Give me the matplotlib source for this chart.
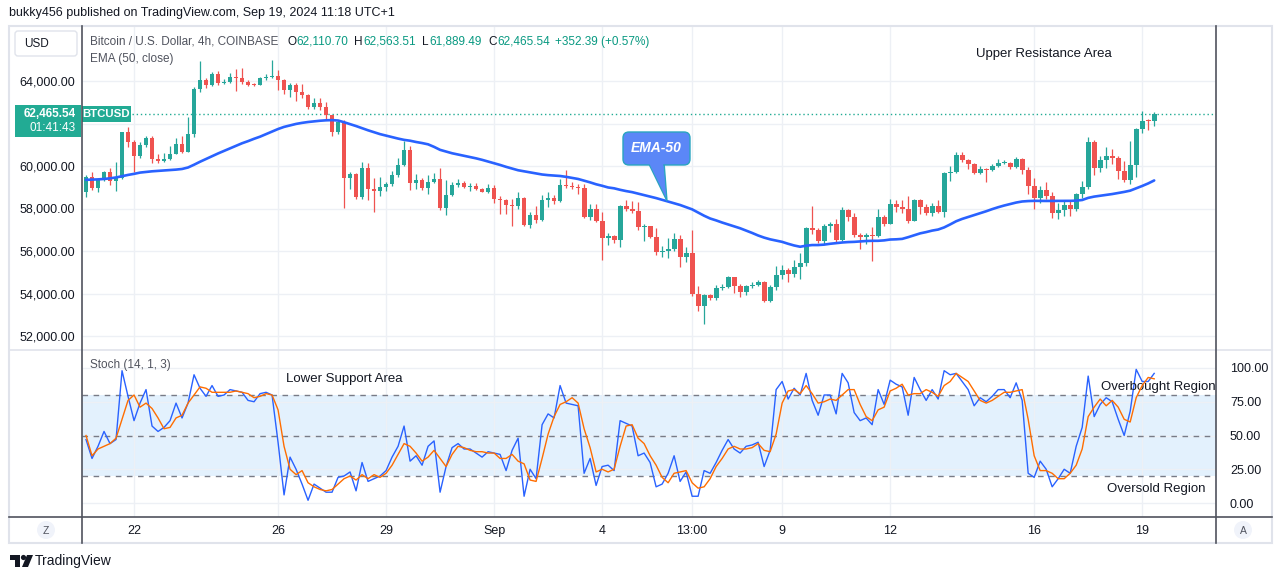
import matplotlib
matplotlib.use('Agg')
import matplotlib.pyplot as plt
import numpy as np
import pandas as pd
from matplotlib.patches import Rectangle, FancyBboxPatch, Polygon, Circle
from matplotlib.lines import Line2D

# ---------------- data ----------------
start_time = '2024-08-20 17:00'
opens = [58790, 59470, 58980, 59340, 59700, 59300, 59420, 61590, 61120, 60490,
         60990, 61300, 60330, 60240, 60330, 60580, 61030, 60670, 61500, 63620,
         64050, 63810, 64330, 63890, 63970, 64170, 64120, 63970, 63830, 63810,
         64125, 64200, 64230, 64050, 63580, 63810, 63480, 63340, 62790, 62980,
         62790, 62400, 61620, 62085, 59420, 59620, 58530, 59890, 58920, 58840,
         59030, 59150, 59576, 60050, 60750, 59215, 59340, 58980, 59250, 59390,
         58040, 58640, 59110, 59200, 59030, 59060, 58920, 58790, 58970, 58450,
         58400, 58160, 58100, 58510, 57220, 57690, 57460, 58400, 58510, 58330,
         59100, 59060, 59020, 58950, 57620, 57980, 57430, 56600, 56700, 56520,
         58120, 57990, 57900, 57110, 57160, 56640, 55940, 56000, 56100, 56550,
         55740, 55920, 53980, 53420, 53930, 53770, 54280, 54320, 54790, 54350,
         54085, 54350, 54380, 54530, 53650, 54320, 54870, 55110, 54920, 55270,
         55420, 57100, 56990, 56490, 57180, 57250, 56520, 57930, 57590, 56760,
         56670, 56740, 56700, 57620, 57270, 58210, 58090, 57980, 57430, 58400,
         58090, 57800, 58120, 57830, 59660, 59700, 60520, 60280, 60100, 59660,
         59860, 59820, 60000, 60130, 60150, 59940, 60330, 59810, 59060, 58510,
         58870, 58590, 57800, 57930, 58170, 57990, 58680, 59030, 61130, 59920,
         60280, 60470, 60380, 59780, 59340, 60050, 61740, 62150, 62110.70]
highs = [59580, 59700, 59450, 59750, 59890, 60200, 61610, 61850, 61220, 61110,
         61410, 61410, 60550, 60600, 60960, 61330, 61410, 62320, 63700, 64950,
         64150, 64420, 64450, 64100, 64400, 64550, 64600, 64050, 63900, 64200,
         64350, 64990, 64500, 64100, 63900, 63900, 63870, 63400, 63215, 63200,
         63000, 62400, 62150, 62150, 59700, 59650, 60200, 60150, 59420, 59500,
         59250, 59765, 60400, 61190, 60940, 59620, 59450, 59570, 59680, 59890,
         59340, 59250, 59400, 59300, 59200, 59200, 58970, 59150, 59100, 58600,
         58450, 58430, 58790, 58550, 57830, 58100, 58640, 58800, 58650, 59390,
         59810, 59250, 59150, 59150, 58230, 58200, 57830, 56850, 56750, 58150,
         58400, 58350, 58320, 57250, 57200, 57100, 56220, 56620, 56850, 56750,
         56200, 56990, 54350, 54000, 54000, 54400, 54450, 54830, 54800, 54450,
         54400, 54550, 54650, 54600, 54400, 55310, 55350, 55200, 55600, 55900,
         57150, 58120, 57100, 57250, 57350, 57500, 58050, 58000, 57800, 56850,
         56860, 57110, 57980, 57700, 58430, 58400, 58380, 58590, 58450, 58450,
         58200, 58260, 58400, 59700, 60000, 60650, 60650, 60350, 60150, 60000,
         59920, 60100, 60330, 60270, 60200, 60420, 60360, 59950, 59420, 59050,
         59240, 58800, 58260, 58400, 58350, 58750, 59300, 61350, 61220, 60460,
         60900, 60800, 60450, 60230, 61200, 61800, 62590, 62200, 62563.51]
lows = [58560, 58870, 58790, 59300, 59120, 58820, 59400, 60910, 59730, 60360,
        60900, 60130, 60130, 60180, 60300, 60560, 60600, 60650, 61370, 63500,
        63670, 63750, 63800, 63850, 63900, 63550, 63840, 63750, 63750, 63800,
        64050, 64150, 63600, 63400, 63260, 63060, 63200, 62700, 62700, 62650,
        62150, 61410, 61500, 58010, 58920, 58470, 58470, 58400, 57850, 58600,
        58840, 59050, 59500, 60000, 58870, 58900, 58850, 58700, 59200, 57950,
        57700, 58600, 59000, 58980, 58840, 58850, 58760, 58740, 58270, 57740,
        57740, 57180, 58000, 57180, 57080, 57320, 57400, 58080, 58200, 58300,
        58950, 58900, 58680, 57560, 57450, 57350, 55580, 56300, 56400, 56170,
        57900, 57800, 57000, 56460, 56600, 55800, 55700, 55690, 56000, 55260,
        55500, 53900, 53190, 52570, 53700, 53700, 54180, 54250, 54010, 53850,
        53950, 54250, 54350, 53600, 53600, 54150, 54700, 54560, 54800, 54700,
        55300, 56800, 56400, 56350, 56900, 56400, 56450, 57410, 56660, 56090,
        56330, 55530, 56650, 57200, 57250, 57850, 57800, 57300, 57400, 57740,
        57700, 57650, 57800, 57620, 59310, 59650, 60200, 59870, 59610, 59610,
        59270, 59760, 59960, 60080, 59870, 59900, 59610, 58680, 57980, 58270,
        58450, 57540, 57500, 57650, 57670, 57900, 58500, 58900, 59580, 59720,
        59900, 60080, 59370, 59250, 59150, 59480, 61570, 61700, 61889.49]
closes = [59470, 58980, 59340, 59700, 59300, 59420, 61590, 61120, 60490, 60990,
          61300, 60330, 60240, 60330, 60580, 61030, 60670, 61500, 63620, 64050,
          63810, 64330, 63890, 63970, 64170, 64120, 63970, 63830, 63810, 64125,
          64200, 64230, 64050, 63580, 63810, 63480, 63340, 62790, 62980, 62790,
          62400, 61620, 62085, 59420, 59620, 58530, 59890, 58920, 58840, 59030,
          59150, 59576, 60050, 60750, 59215, 59340, 58980, 59250, 59390, 58040,
          58640, 59110, 59200, 59030, 59060, 58920, 58790, 58970, 58450, 58400,
          58160, 58100, 58510, 57220, 57690, 57460, 58400, 58510, 58330, 59100,
          59060, 59020, 58950, 57620, 57980, 57430, 56600, 56700, 56520, 58120,
          57990, 57900, 57110, 57160, 56640, 55940, 56000, 56100, 56550, 55740,
          55920, 53980, 53420, 53930, 53770, 54280, 54320, 54790, 54350, 54085,
          54350, 54380, 54530, 53650, 54320, 54870, 55110, 54920, 55270, 55420,
          57100, 56990, 56490, 57180, 57250, 56520, 57930, 57590, 56760, 56670,
          56740, 56700, 57620, 57270, 58210, 58090, 57980, 57430, 58400, 58090,
          57800, 58120, 57830, 59660, 59700, 60520, 60280, 60100, 59660, 59860,
          59820, 60000, 60130, 60150, 59940, 60330, 59810, 59060, 58510, 58870,
          58590, 57800, 57930, 58170, 57990, 58680, 59030, 61130, 59920, 60280,
          60470, 60380, 59780, 59340, 60050, 61740, 62110, 62110.70, 62465.54]
ema50 = [59350, 59360, 59370, 59390, 59420, 59460, 59520, 59580, 59630, 59690,
         59720, 59750, 59770, 59790, 59810, 59830, 59860, 59930, 60060, 60200,
         60330, 60460, 60590, 60710, 60830, 60950, 61070, 61170, 61280, 61380,
         61500, 61620, 61740, 61840, 61910, 61980, 62030, 62070, 62100, 62130,
         62150, 62160, 62140, 62060, 61970, 61880, 61780, 61680, 61590, 61500,
         61430, 61360, 61290, 61230, 61190, 61130, 61080, 61020, 60900, 60760,
         60680, 60600, 60540, 60480, 60420, 60360, 60290, 60210, 60130, 60050,
         59960, 59880, 59800, 59750, 59700, 59650, 59600, 59570, 59550, 59530,
         59490, 59440, 59390, 59310, 59230, 59140, 59070, 58990, 58950, 58880,
         58820, 58770, 58700, 58630, 58560, 58490, 58410, 58330, 58250, 58165,
         58060, 57960, 57810, 57660, 57530, 57440, 57340, 57250, 57160, 57070,
         56960, 56850, 56730, 56630, 56550, 56490, 56430, 56340, 56260, 56200,
         56250, 56280, 56280, 56300, 56340, 56370, 56400, 56420, 56430, 56450,
         56470, 56480, 56480, 56500, 56540, 56550, 56570, 56650, 56740, 56830,
         56890, 56960, 57010, 57110, 57250, 57400, 57510, 57600, 57690, 57775,
         57870, 57970, 58060, 58140, 58210, 58280, 58330, 58350, 58360, 58355,
         58355, 58355, 58355, 58360, 58360, 58370, 58400, 58500, 58560, 58600,
         58640, 58680, 58730, 58780, 58840, 58950, 59060, 59180, 59320]
stoch_k = [47, 33, 42, 53, 44, 47, 98, 79, 61, 74, 84, 57, 53, 56, 61, 74, 63, 74, 95, 85,
           79, 87, 79, 80, 84, 83, 82, 76, 75, 81, 82, 80, 45, 6, 34, 25, 14, 2, 14, 11,
           8, 8, 19, 20, 23, 9, 30, 16, 18, 20, 24, 34, 42, 57, 31, 35, 28, 42, 46, 8,
           27, 41, 44, 40, 40, 37, 34, 38, 37, 36, 24, 39, 48, 5, 25, 18, 58, 66, 63, 87,
           74, 73, 72, 22, 33, 13, 27, 28, 24, 61, 59, 57, 35, 37, 30, 12, 14, 22, 35, 16,
           23, 5, 5, 24, 22, 30, 39, 47, 40, 37, 42, 43, 45, 27, 39, 84, 90, 77, 85, 80,
           96, 76, 65, 80, 80, 66, 96, 89, 67, 61, 63, 58, 84, 73, 91, 88, 86, 65, 93, 84,
           76, 84, 77, 98, 95, 96, 90, 84, 72, 78, 75, 79, 84, 84, 78, 89, 76, 22, 19, 31,
           25, 12, 18, 25, 22, 42, 56, 94, 64, 73, 78, 75, 62, 50, 68, 99, 90, 90, 96]
stoch_d = [50, 35, 40, 42, 44, 48, 62, 76, 80, 71, 74, 70, 63, 55, 56, 63, 65, 74, 80, 86,
           85, 82, 82, 82, 82, 83, 82, 81, 78, 79, 81, 80, 69, 42, 25, 21, 24, 15, 12, 10,
           9, 10, 14, 18, 20, 17, 21, 18, 21, 19, 22, 28, 36, 44, 42, 37, 31, 34, 39, 33,
           27, 36, 42, 41, 39, 38, 38, 37, 37, 33, 33, 36, 31, 29, 17, 16, 33, 51, 64, 73,
           75, 78, 74, 55, 41, 23, 25, 23, 25, 42, 57, 58, 48, 44, 35, 28, 19, 15, 22, 23,
           24, 15, 11, 12, 18, 27, 33, 40, 42, 40, 40, 41, 44, 39, 38, 51, 74, 83, 84, 81,
           87, 81, 74, 75, 77, 76, 80, 84, 84, 73, 64, 61, 69, 71, 83, 85, 88, 80, 81, 81,
           84, 82, 79, 87, 90, 96, 93, 90, 83, 76, 74, 76, 79, 82, 82, 83, 84, 62, 35, 24,
           24, 22, 18, 18, 22, 28, 40, 64, 71, 77, 72, 76, 71, 62, 60, 78, 87, 93, 92]
price_ticks = [52000, 54000, 56000, 58000, 60000, 62000, 64000]
stoch_ticks = [0, 25, 50, 75, 100]
time_tick_times = ['2024-08-22 01:00', '2024-08-26 01:00', '2024-08-29 01:00', '2024-09-01 01:00',
                   '2024-09-04 01:00', '2024-09-06 13:00', '2024-09-09 01:00', '2024-09-12 01:00',
                   '2024-09-16 01:00', '2024-09-19 01:00']
time_tick_labels = ['22', '26', '29', 'Sep', '4', '13:00', '9', '12', '16', '19']
last_open, last_high, last_low, last_close = 62110.70, 62563.51, 61889.49, 62465.54
change, change_pct = 352.39, 0.57

# ---------------- figure ----------------
plt.rcParams['font.family'] = ['Liberation Sans', 'DejaVu Sans']
W, H = 1281, 579
fig = plt.figure(figsize=(W / 100, H / 100), dpi=100)
fig.patch.set_facecolor('white')

def fx(px):
    return px / W

def fy(py):
    return 1 - py / H

TXT = '#131722'
GRID = '#edf0f5'
UP, DN = '#26a69a', '#ef5350'
AXL = '#50535e'

n = len(closes)
times = pd.date_range(start_time, periods=n, freq='4h')
xi = np.arange(n)
tick_pos = [int(times.searchsorted(pd.Timestamp(t))) for t in time_tick_times]

L, R = 82, 1216
ax = fig.add_axes([fx(L), fy(350), fx(R) - fx(L), fy(26) - fy(350)])
ax2 = fig.add_axes([fx(L), fy(517), fx(R) - fx(L), fy(350) - fy(517)])
xlim = (-0.67, 188.3)

# --- main pane ---
o = np.array(opens); h = np.array(highs); lo = np.array(lows); c = np.array(closes)
cols = np.where(c >= o, UP, DN)
ax.vlines(xi, lo, h, colors=cols, lw=0.9, zorder=3)
body_h = np.maximum(np.abs(c - o), 45)
ax.bar(xi, body_h, bottom=np.minimum(o, c), width=0.8, color=cols, zorder=4, linewidth=0)
ax.plot(xi, ema50, color='#2962ff', lw=1.9, zorder=5, solid_capstyle='round')
ax.axhline(last_close, color='#22ab94', lw=1, ls=(0, (1, 2)), zorder=2)

ax.set_xlim(*xlim)
ax.set_ylim(64000 - (350 - 81) / 21.25 * 1000, 64000 + (81 - 26) / 21.25 * 1000)
ax.set_yticks(price_ticks)
# the 62,000.00 label is hidden behind the live price tag in the original
ax.set_yticklabels([f'{v:,.2f}' if abs(v - last_close) > 1000 else '' for v in price_ticks])
ax.set_xticks(tick_pos)
ax.set_xticklabels([])
ax.tick_params(axis='y', length=0, pad=5, labelsize=9, labelcolor=TXT)
ax.tick_params(axis='x', length=0)
ax.grid(True, color=GRID, lw=1)
ax.set_axisbelow(True)
for s in ax.spines.values():
    s.set_visible(False)

# --- stoch pane ---
ax2.axhspan(20, 80, color='#e3f1fd', zorder=0, lw=0)
for lvl in (80, 50, 20):
    ax2.axhline(lvl, color='#787b86', lw=1, ls=(0, (4, 4)), zorder=1)
ax2.plot(xi, stoch_k, color='#2962ff', lw=1.0, zorder=3)
ax2.plot(xi, stoch_d, color='#ff6d00', lw=1.0, zorder=4)
ax2.set_xlim(*xlim)
ax2.set_ylim((503 - 517) / 1.35, (503 - 350) / 1.35)
ax2.set_yticks(stoch_ticks)
ax2.set_yticklabels([f'{v:.2f}' for v in stoch_ticks])
ax2.yaxis.tick_right()
ax2.set_xticks(tick_pos)
ax2.set_xticklabels(time_tick_labels)
ax2.tick_params(axis='y', length=0, pad=10, labelsize=9, labelcolor=TXT)
ax2.tick_params(axis='x', length=0, pad=6, labelsize=9, labelcolor=TXT)
ax2.grid(True, color=GRID, lw=1)
ax2.set_axisbelow(True)
for s in ax2.spines.values():
    s.set_visible(False)

ax2.text(0.007, 0.91, 'Stoch (14, 1, 3)', transform=ax2.transAxes, fontsize=8.5,
         color='#50535e', va='center', ha='left')
ax2.text(0.180, 0.825, 'Lower Support Area', transform=ax2.transAxes, fontsize=9.5,
         color=TXT, va='center', ha='left')
ax2.text(0.899, 0.78, 'Overbought Region', transform=ax2.transAxes, fontsize=9.5,
         color=TXT, va='center', ha='left', clip_on=True)
ax2.text(0.904, 0.17, 'Oversold Region', transform=ax2.transAxes, fontsize=9.5,
         color=TXT, va='center', ha='left')

# --- overlay (pixel coordinates) ---
ov = fig.add_axes([0, 0, 1, 1])
ov.set_xlim(0, W)
ov.set_ylim(H, 0)
ov.axis('off')
ov.patch.set_alpha(0)

# frame & separators
ov.add_patch(Rectangle((9, 26), 1263, 517, fill=False, ec='#e0e3eb', lw=1.5))
ov.add_line(Line2D([9, 1272], [350, 350], color='#e0e3eb', lw=1.2))
ov.add_line(Line2D([9, 1272], [517, 517], color=AXL, lw=1.2))
ov.add_line(Line2D([L, L], [26, 543], color=AXL, lw=1.2))
ov.add_line(Line2D([R, R], [26, 543], color=AXL, lw=1.2))

fig.text(fx(9), fy(13), 'bukky456 published on TradingView.com, Sep 19, 2024 11:18 UTC+1',
         fontsize=9, color=TXT, va='center', ha='left')

# USD box
ov.add_patch(FancyBboxPatch((15, 31), 62, 25, boxstyle='round,pad=0,rounding_size=3',
                            fc='white', ec='#e0e3eb', lw=1))
ov.text(24, 44, 'USD', fontsize=8.5, color=TXT, va='center', ha='left')

# legend
ov.text(90, 42, 'Bitcoin / U.S. Dollar, 4h, COINBASE', fontsize=8.5, color='#50535e',
        va='center', ha='left')
TEAL = '#089981'
pieces = [(287, 'O', TXT), (296, f'{last_open:,.2f}', TEAL),
          (354, 'H', TXT), (363, f'{last_high:,.2f}', TEAL),
          (422, 'L', TXT), (429, f'{last_low:,.2f}', TEAL),
          (488, 'C', TXT), (497, f'{last_close:,.2f}', TEAL),
          (555, f'+{change:,.2f} (+{change_pct:.2f}%)', TEAL)]
for px, s, col in pieces:
    ov.text(px, 42, s, fontsize=8.5, color=col, va='center', ha='left')
ov.text(90, 59, 'EMA (50, close)', fontsize=8.5, color='#50535e', va='center', ha='left')

ov.text(976, 54, 'Upper Resistance Area', fontsize=9.5, color=TXT, va='center', ha='left')

# price label
disp = ax.transData.transform((0, last_close))
py = H - disp[1]
ov.add_patch(Rectangle((15, py - 9), 66, 32, fc='#22ab94', ec='none'))
ov.text(76, py, f'{last_close:,.2f}', fontsize=8.5, color='white', va='center', ha='right',
        fontweight='bold')
ov.text(76, py + 14.5, '01:41:43', fontsize=8.5, color='white', va='center', ha='right')
ov.add_patch(Rectangle((82, py - 8), 49, 16, fc='#22ab94', ec='none'))
ov.text(106.5, py, 'BTCUSD', fontsize=8.2, color='white', va='center', ha='center',
        fontweight='bold')

# EMA-50 callout
ov.add_patch(Polygon([[648, 162], [664, 162], [667, 201]], closed=True,
                     fc='#5b87f7', ec='#2aa5c0', lw=1, zorder=5))
ov.add_patch(FancyBboxPatch((623, 132), 67, 33, boxstyle='round,pad=0,rounding_size=6',
                            fc='#5b87f7', ec='#2aa5c0', lw=1, zorder=6))
ov.add_patch(Polygon([[649, 163], [663, 163], [666, 197]], closed=True,
                     fc='#5b87f7', ec='none', zorder=7))
ov.text(656.5, 148.5, 'EMA-50', fontsize=10, color='white', va='center', ha='center',
        fontstyle='italic', fontweight='bold', zorder=8)

# Z / A circles
for cx, lab in ((46, 'Z'), (1243, 'A')):
    ov.add_patch(Circle((cx, 530), 9, fc='#f0f3fa', ec='none'))
    ov.text(cx, 530.5, lab, fontsize=7.5, color='#50535e', va='center', ha='center')

# TradingView logo
ov.add_patch(Polygon([[10, 555], [20, 555], [20, 567], [15, 567], [15, 560], [10, 560]],
                     closed=True, fc=TXT, ec='none'))
ov.add_patch(Circle((23.5, 557.5), 2.6, fc=TXT, ec='none'))
ov.add_patch(Polygon([[27, 555], [33, 555], [28, 567], [22, 567]], closed=True, fc=TXT, ec='none'))
ov.text(35, 561, 'TradingView', fontsize=10, color=TXT, va='center', ha='left')

fig.savefig('out.png', dpi=100, facecolor='white')
